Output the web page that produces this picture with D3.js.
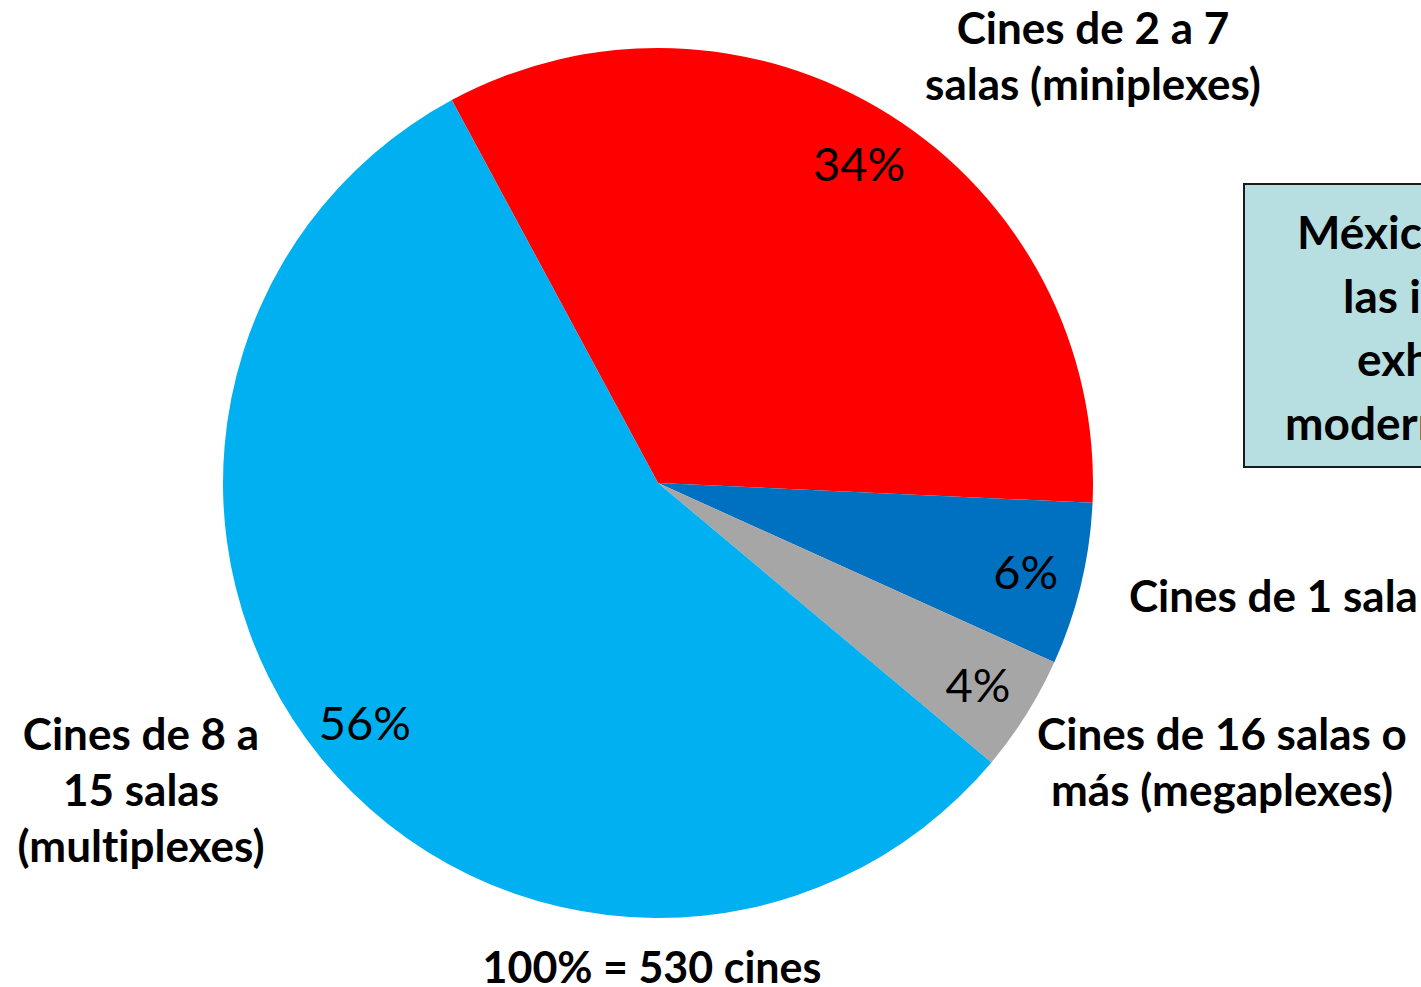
<!DOCTYPE html>
<html>
<head>
<meta charset="utf-8">
<script src="https://cdn.jsdelivr.net/npm/d3@7"></script>
<style>
  body { margin: 0; background: #fff; overflow: hidden; }
  svg { display: block; }
  text { font-variant-ligatures: none; }
</style>
</head>
<body>
<svg id="chart" width="1421" height="987"></svg>
<script>
// data (530 cines in total)
const categories = ["Cines de 2 a 7 salas (miniplexes)", "Cines de 1 sala", "Cines de 16 salas o más (megaplexes)", "Cines de 8 a 15 salas (multiplexes)"];
const cines = [178, 32, 23, 297];
const pctLabels = ["34%", "6%", "4%", "56%"];
const colors = ["#FF0000", "#0070C0", "#A6A6A6", "#00B0F0"];
const totalLabel = "100% = 530 cines";
const boxLines = ["México tiene", "las instalaciones", "exhibición", "modernas"];

const svg = d3.select("#chart");
const cx = 658, cy = 483, R = 435;
const font = "Lato, 'Open Sans', sans-serif";

const pie = d3.pie().sort(null).value(d => d)
  .startAngle(-28.3 * Math.PI / 180)
  .endAngle((360 - 28.3) * Math.PI / 180);
const arcs = pie(cines);
const arc = d3.arc().innerRadius(0).outerRadius(R);
const labelArc = d3.arc().innerRadius(378).outerRadius(378);

const g = svg.append("g").attr("transform", `translate(${cx},${cy})`);
g.selectAll("path").data(arcs).enter().append("path")
  .attr("d", arc)
  .attr("fill", (d, i) => colors[i]);

g.selectAll("text.pct").data(arcs).enter().append("text")
  .attr("class", "pct")
  .attr("transform", d => `translate(${labelArc.centroid(d)})`)
  .attr("text-anchor", "middle")
  .attr("dy", "0.38em")
  .attr("font-family", font)
  .attr("font-size", 47)
  .attr("fill", "#000")
  .text((d, i) => pctLabels[i]);

// category labels around the pie
const catText = [
  { lines: ["Cines de 2 a 7", "salas (miniplexes)"], x: 1093, y: 44, anchor: "middle" },
  { lines: ["Cines de 1 sala"], x: 1129, y: 612, anchor: "start" },
  { lines: ["Cines de 16 salas o", "más (megaplexes)"], x: 1222, y: 750, anchor: "middle" },
  { lines: ["Cines de 8 a", "15 salas", "(multiplexes)"], x: 141, y: 750, anchor: "middle" }
];
catText.forEach(c => {
  const t = svg.append("text")
    .attr("x", c.x).attr("y", c.y)
    .attr("text-anchor", c.anchor)
    .attr("font-family", font)
    .attr("font-weight", 700)
    .attr("font-size", 44);
  c.lines.forEach((l, i) => {
    t.append("tspan").attr("x", c.x).attr("dy", i === 0 ? 0 : 56).text(l);
  });
});

svg.append("text")
  .attr("x", 652).attr("y", 983)
  .attr("text-anchor", "middle")
  .attr("font-family", font)
  .attr("font-weight", 700)
  .attr("font-size", 43)
  .text(totalLabel);

// note box on the right (cut by the page edge)
svg.append("rect")
  .attr("x", 1244).attr("y", 184)
  .attr("width", 400).attr("height", 283)
  .attr("fill", "#B7DFE1")
  .attr("stroke", "#1a1a1a")
  .attr("stroke-width", 2);
const boxX = [1297, 1343, 1357, 1285];
const bt = svg.append("text")
  .attr("font-family", font)
  .attr("font-weight", 700)
  .attr("font-size", 46);
boxLines.forEach((l, i) => {
  bt.append("tspan").attr("x", boxX[i]).attr("y", 249 + i * 63.5).text(l);
});
</script>
</body>
</html>
